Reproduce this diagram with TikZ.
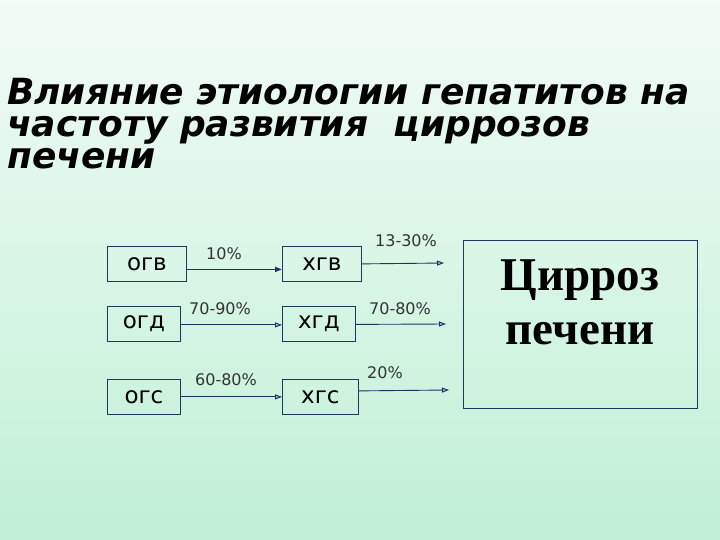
\documentclass[tikz,border=0pt]{standalone}
\usepackage{fontspec}
\setmainfont{DejaVu Sans}
\newfontfamily\serifbold{Liberation Serif}
\usetikzlibrary{arrows.meta}
\definecolor{bgtop}{RGB}{242,251,246}
\definecolor{bgbot}{RGB}{192,240,214}
\definecolor{boxline}{RGB}{30,56,92}
\definecolor{arrowcol}{RGB}{28,52,100}
\begin{document}
\begin{tikzpicture}[x=1pt,y=-1pt,
    hbox/.style={draw=boxline, line width=0.8pt, minimum height=35pt, inner sep=0pt, font=\fontsize{23}{23}\selectfont},
    pct/.style={font=\fontsize{16}{16}\selectfont, text=black!80},
    conn/.style={draw=arrowcol, line width=0.9pt, -{Triangle[length=7pt,width=5pt,fill=arrowcol!40]}}]
    \shade[top color=bgtop, bottom color=bgbot] (0,0) rectangle (720,540);
    \useasboundingbox (0,0) rectangle (720,540);
    % title
    \node[anchor=north west, align=left, inner sep=0pt, font=\fontsize{36}{32}\selectfont\bfseries\itshape] (title) at (7,78) {Влияние этиологии гепатитов на\\частоту развития\ \ циррозов\\печени};
    % acute / chronic boxes
    \node[hbox, minimum width=79pt, anchor=north west] (ogv) at (107,246) {огв};
    \node[hbox, minimum width=79pt, anchor=north west] (xgv) at (282,246) {хгв};
    \node[hbox, minimum width=73pt, anchor=north west] (ogd) at (107,306) {огд};
    \node[hbox, minimum width=73pt, anchor=north west] (xgd) at (282,306) {хгд};
    \node[hbox, minimum width=73pt, anchor=north west] (ogs) at (107,379) {огс};
    \node[hbox, minimum width=76pt, anchor=north west] (xgs) at (282,379) {хгс};
    % cirrhosis
    \node[draw=boxline, line width=0.9pt, minimum width=234pt, minimum height=168pt, anchor=north west] (cirr) at (463,240) {};
    \node[align=center, font=\fontsize{47}{54}\selectfont\serifbold\bfseries, anchor=north] (cirrtext) at (580,256) {Цирроз\\печени};
    \coordinate (endv) at (444,263);
    \coordinate (endd) at (446,324);
    \coordinate (ends) at (449,390);
    % arrows
    \draw[conn, line width=1.8pt] ([yshift=-5.5pt]ogv.east) -- ([yshift=-5.5pt]xgv.west);
    \draw[conn] ([yshift=-1pt]ogd.east) -- ([yshift=-1pt]xgd.west);
    \draw[conn] (ogs.east) -- (xgs.west);
    \draw[conn] (xgv.east) -- (endv);
    \draw[conn] ([yshift=-0.5pt]xgd.east) -- (endd);
    \draw[conn] ([yshift=6pt]xgs.east) -- (ends);
    % percentages
    \node[pct] (p1) at (224,254) {10\%};
    \node[pct] (p2) at (406,241) {13-30\%};
    \node[pct] (p3) at (220,309) {70-90\%};
    \node[pct] (p4) at (400,309) {70-80\%};
    \node[pct] (p5) at (226,380) {60-80\%};
    \node[pct] (p6) at (385,373) {20\%};
\end{tikzpicture}
\end{document}
